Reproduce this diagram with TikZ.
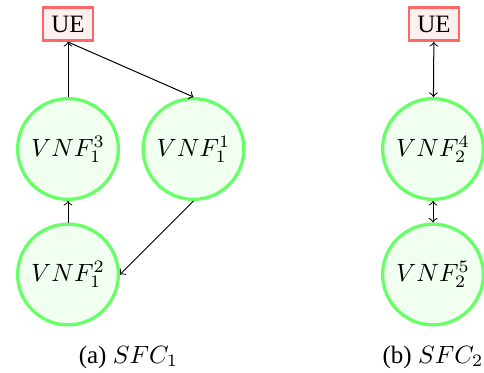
\documentclass[tikz,border=0pt]{standalone}
\usepackage[no-math]{fontspec}
\setmainfont{Liberation Serif}
\begin{document}
\begin{tikzpicture}[x=0.4pt,y=-0.4pt,
  vnf/.style={circle,draw=green!60,fill=green!6,line width=1.3pt,minimum size=40.3pt,inner sep=0pt},
  uebox/.style={draw=red!60,fill=red!6,line width=1.1pt},
  conn/.style={->},
  bconn/.style={<->}]
\useasboundingbox (0,0) rectangle (484,372);
\node[uebox] (ua) at (68,24) {UE};
\node[vnf] (a3) at (68,149) {$VNF_1^3$};
\node[vnf] (a1) at (193.5,149) {$VNF_1^1$};
\node[vnf] (a2) at (68,274.5) {$VNF_1^2$};
\node (capa) at (128.5,357) {(a) $SFC_1$};
\draw[conn] (a3) -- (ua);
\draw[conn] (ua.south) -- (a1.north);
\draw[conn] (a1.south) -- (a2.east);
\draw[conn] (a2) -- (a3);
\node[uebox] (ub) at (434,24) {UE};
\node[vnf] (b4) at (433,149) {$VNF_2^4$};
\node[vnf] (b5) at (433,274.5) {$VNF_2^5$};
\node (capb) at (433,357) {(b) $SFC_2$};
\draw[bconn] (ub) -- (b4);
\draw[bconn] (b4) -- (b5);
\end{tikzpicture}
\end{document}
